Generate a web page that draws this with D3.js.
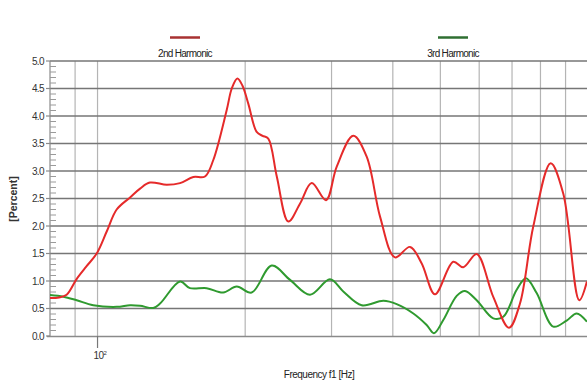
<!DOCTYPE html>
<html>
<head>
<meta charset="utf-8">
<script src="https://cdn.jsdelivr.net/npm/d3@7/dist/d3.min.js"></script>
<style>
  html, body { margin: 0; padding: 0; background: #fff; }
  svg { display: block; font-family: "Liberation Sans", Arial, sans-serif; }
</style>
</head>
<body>
<svg id="chart" width="587" height="384"></svg>
<script>
// Harmonic distortion vs. frequency
const freq2nd = [80, 83.5, 86.5, 90.7, 95, 99.6, 104.4, 109.4, 116.5, 122.1, 127.9, 138.4, 147.3, 156.8, 165.6, 172.2, 183.4, 187.8, 192.8, 197.5, 203, 211.1, 217, 222.9, 232, 244.9, 258.8, 273.3, 292.3, 307.4, 332.2, 353.8, 376.7, 404.1, 433.6, 458.1, 487.5, 531.2, 556.8, 593, 641, 690.1, 726.6, 773.4, 839.2, 890.3, 959.8, 995];
const harmonic2nd = [0.69, 0.70, 0.75, 1.04, 1.27, 1.50, 1.90, 2.30, 2.52, 2.68, 2.79, 2.75, 2.78, 2.89, 2.90, 3.20, 4.11, 4.50, 4.68, 4.55, 4.22, 3.71, 3.64, 3.59, 2.90, 2.08, 2.41, 2.78, 2.47, 3.08, 3.64, 3.26, 2.17, 1.43, 1.62, 1.32, 0.76, 1.35, 1.25, 1.49, 0.71, 0.15, 0.59, 1.99, 3.14, 2.59, 0.65, 0.99];

const freq3rd = [80, 85.2, 90.7, 98.0, 109.4, 116.5, 122.1, 129.9, 134.1, 147.3, 154.3, 166.9, 180.4, 192.2, 206.2, 226.5, 246.9, 271.2, 297.8, 317, 345.6, 382.6, 407.3, 440.4, 468.9, 485.2, 506.9, 539.9, 561.3, 593, 641, 671.9, 715.5, 747.3, 785.8, 849.5, 904.6, 948.2, 995];
const harmonic3rd = [0.745, 0.715, 0.65, 0.56, 0.53, 0.56, 0.55, 0.51, 0.59, 0.99, 0.87, 0.87, 0.79, 0.90, 0.79, 1.28, 1.02, 0.75, 1.03, 0.81, 0.56, 0.64, 0.58, 0.41, 0.20, 0.05, 0.29, 0.73, 0.82, 0.65, 0.32, 0.35, 0.84, 1.05, 0.78, 0.17, 0.28, 0.41, 0.26];

const seriesNames = ["2nd Harmonic", "3rd Harmonic"];
const yTickValues = [0, 0.5, 1, 1.5, 2, 2.5, 3, 3.5, 4, 4.5, 5];
const xGridValues = [90, 100, 200, 300, 400, 500, 600, 700, 800, 900];

const svg = d3.select("#chart");
const plotLeft = 50, plotRight = 588, plotTop = 61, plotBottom = 336;

const x = d3.scaleLog().domain([80, 1000]).range([plotLeft, plotRight]);
const y = d3.scaleLinear().domain([0, 5]).range([plotBottom, plotTop]);

const plot = svg.append("g");

// vertical grid
plot.selectAll("line.vgrid").data(xGridValues).join("line")
  .attr("x1", d => x(d)).attr("x2", d => x(d))
  .attr("y1", plotTop).attr("y2", plotBottom)
  .attr("stroke", "#b4b4b4").attr("stroke-width", 1.2);

// horizontal grid
plot.selectAll("line.hgrid").data(yTickValues.filter(d => d > 0)).join("line")
  .attr("x1", plotLeft).attr("x2", plotRight)
  .attr("y1", d => y(d)).attr("y2", d => y(d))
  .attr("stroke", "#767676").attr("stroke-width", 1.6);

// bottom axis line
plot.append("line")
  .attr("x1", plotLeft - 3).attr("x2", plotRight)
  .attr("y1", plotBottom + 0.5).attr("y2", plotBottom + 0.5)
  .attr("stroke", "#8a8a8a").attr("stroke-width", 1.3);

// left axis line
plot.append("line")
  .attr("x1", plotLeft).attr("x2", plotLeft)
  .attr("y1", plotTop).attr("y2", plotBottom)
  .attr("stroke", "#8a8a8a").attr("stroke-width", 1.2);

// minor y ticks
const minor = d3.range(0, 50).map(i => i / 10).filter(v => Math.round(v * 10) % 5 !== 0);
plot.selectAll("line.minor").data(minor).join("line")
  .attr("x1", plotLeft).attr("x2", plotLeft + 6)
  .attr("y1", d => y(d)).attr("y2", d => y(d))
  .attr("stroke", "#9a9a9a").attr("stroke-width", 1);

// major y ticks + labels
plot.selectAll("line.major").data(yTickValues).join("line")
  .attr("x1", plotLeft - 4).attr("x2", plotLeft)
  .attr("y1", d => y(d)).attr("y2", d => y(d))
  .attr("stroke", "#8a8a8a").attr("stroke-width", 1.2);

plot.selectAll("text.ylab").data(yTickValues).join("text")
  .attr("x", plotLeft - 6).attr("y", d => y(d) + 3.5)
  .attr("text-anchor", "end")
  .attr("font-size", 10).attr("letter-spacing", -0.6)
  .attr("fill", "#333")
  .text(d => d3.format(".1f")(d));

// x tick at 10^2
plot.append("line")
  .attr("x1", x(100)).attr("x2", x(100))
  .attr("y1", plotBottom).attr("y2", plotBottom + 12)
  .attr("stroke", "#777").attr("stroke-width", 1.2);

const xl = plot.append("text")
  .attr("x", x(100) - 4).attr("y", 359)
  .attr("font-size", 10).attr("letter-spacing", -0.6).attr("fill", "#333");
xl.append("tspan").text("10");
xl.append("tspan").attr("dy", -4).attr("font-size", 6).text("2");

// axis titles
svg.append("text")
  .attr("x", 319).attr("y", 378)
  .attr("text-anchor", "middle")
  .attr("font-size", 10).attr("letter-spacing", -0.5).attr("fill", "#222")
  .text("Frequency f1  [Hz]");

svg.append("text")
  .attr("transform", "translate(17,199) rotate(-90)")
  .attr("text-anchor", "middle")
  .attr("font-size", 10.5).attr("font-weight", "bold").attr("fill", "#333")
  .text("[Percent]");

// curves
const line = d3.line()
  .x(d => x(d[0])).y(d => y(d[1]))
  .curve(d3.curveCatmullRom.alpha(0.5));

svg.append("clipPath").attr("id", "clip")
  .append("rect").attr("x", plotLeft).attr("y", plotTop - 5)
  .attr("width", plotRight - plotLeft).attr("height", plotBottom - plotTop + 10);

svg.append("path")
  .datum(d3.zip(freq3rd, harmonic3rd))
  .attr("clip-path", "url(#clip)")
  .attr("fill", "none").attr("stroke", "#2f9a2f").attr("stroke-width", 2)
  .attr("d", line);

svg.append("path")
  .datum(d3.zip(freq2nd, harmonic2nd))
  .attr("clip-path", "url(#clip)")
  .attr("fill", "none").attr("stroke", "#e52a2a").attr("stroke-width", 2)
  .attr("d", line);

// legend
const legend = [
  { name: seriesNames[0], cx: 185, color: "#a83232" },
  { name: seriesNames[1], cx: 453, color: "#2f6f32" }
];
const lg = svg.selectAll("g.legend").data(legend).join("g");
lg.append("line")
  .attr("x1", d => d.cx - 15).attr("x2", d => d.cx + 15)
  .attr("y1", 37.5).attr("y2", 37.5)
  .attr("stroke", d => d.color).attr("stroke-width", 2.5);
lg.append("text")
  .attr("x", d => d.cx).attr("y", 57)
  .attr("text-anchor", "middle")
  .attr("font-size", 10).attr("letter-spacing", -0.7).attr("fill", "#222")
  .text(d => d.name);
</script>
</body>
</html>
